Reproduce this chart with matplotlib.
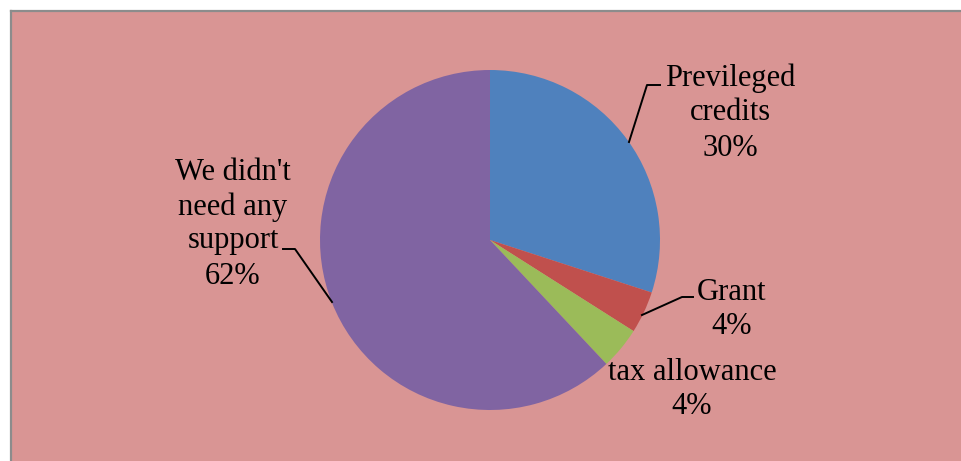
import numpy as np
import matplotlib.pyplot as plt
from matplotlib.patches import Rectangle

# data
labels = ["Previleged credits", "Grant", "tax allowance", "We didn't need any support"]
shares = [30, 4, 4, 62]
colors = ["#4F81BD", "#C0504D", "#9BBB59", "#8064A2"]

W, H = 961, 461

fig = plt.figure(figsize=(W / 100, H / 100), dpi=100)
ax = fig.add_axes([0, 0, 1, 1])


def py(y):
    # pixel row -> data y
    return H - y


# chart area background with a grey frame on top and left
ax.add_patch(Rectangle((10, 0), W - 10, py(12), facecolor="#D99594", edgecolor="none", zorder=0))
ax.plot([10.5, 10.5], [0, py(11.5)], color="#8C8C8C", lw=1.6, zorder=1)
ax.plot([10.5, W], [py(11.5), py(11.5)], color="#8C8C8C", lw=1.6, zorder=1)

ax.pie(shares, colors=colors, startangle=90, counterclock=False,
       center=(490, py(240)), radius=170, frame=True,
       wedgeprops=dict(linewidth=0))
ax.set_xlim(0, W)
ax.set_ylim(0, H)
ax.set_aspect("equal")
ax.axis("off")

font = dict(family="Liberation Serif", fontsize=22, color="black", ha="center", va="center")

# label text blocks: (x, [(line, y), ...])
blocks = [
    (730, [("Previleged", 78), ("credits", 113), ("30%", 148)]),
    (732, [("Grant", 292), ("4%", 326)]),
    (692, [("tax allowance", 372), ("4%", 407)]),
    (233, [("We didn't", 172), ("need any", 207), ("support", 241), ("62%", 276)]),
]
for x, lines in blocks:
    for txt, y in lines:
        ax.text(x, py(y), txt, **font)

# leader lines
leaders = [
    [(629, 142), (647, 85), (660, 85)],
    [(642, 315), (682, 297), (693, 297)],
    [(283, 249), (295, 249), (332, 302)],
]
for pts in leaders:
    xs = [p[0] for p in pts]
    ys = [py(p[1]) for p in pts]
    ax.plot(xs, ys, color="black", lw=1.4, zorder=5)

plt.savefig("out.png", dpi=100)
